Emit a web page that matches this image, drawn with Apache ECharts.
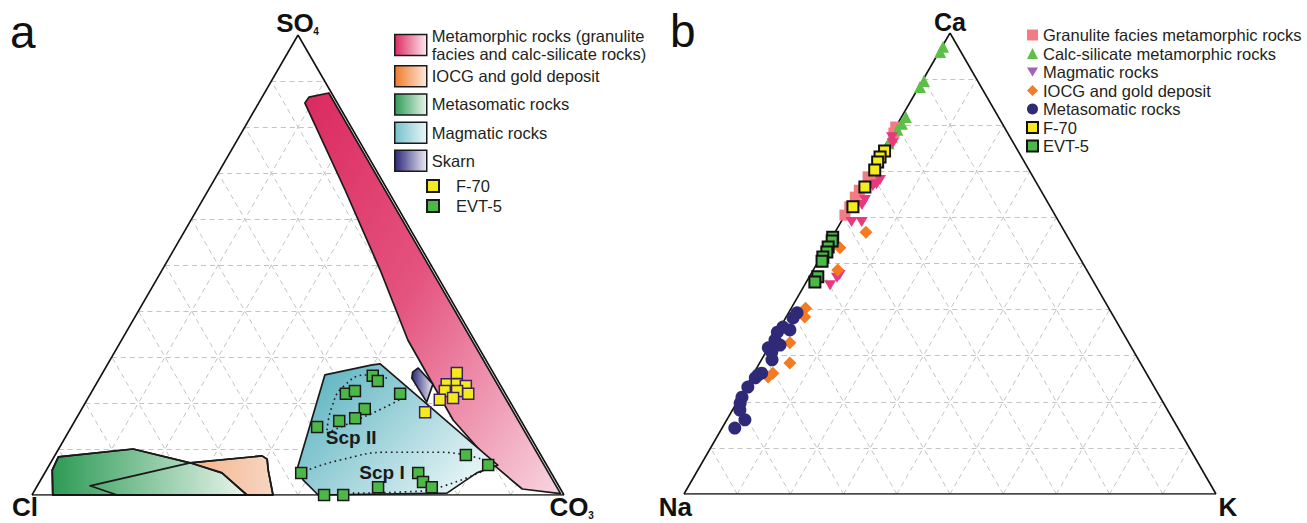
<!DOCTYPE html>
<html>
<head>
<meta charset="utf-8">
<script src="https://cdn.jsdelivr.net/npm/echarts@6/dist/echarts.min.js"></script>
<style>
html,body{margin:0;padding:0;background:#ffffff;}
#chart{width:1307px;height:523px;}
</style>
</head>
<body>
<div id="chart"></div>
<script>
// ===================== DATA =====================
// ternary grid ticks (percent)
const gridTicks = [10, 20, 30, 40, 50, 60, 70, 80, 90];

// ---- Diagram a : Cl (left) – CO3 (right) – SO4 (top); points are [SO4 %, CO3 %], Cl = remainder
const fieldMetamorphic = [[85.2, 8.7], [86.5, 8.8], [87.4, 12.1], [0.3, 99.2], [1.3, 91.5], [7.2, 82.5], [16.3, 71.0], [33.7, 53.8], [48.9, 41.0], [66.3, 25.7]];
const fieldIOCG = [[2.0, 9.9], [7.0, 26.2], [8.5, 39.0], [7.8, 40.3], [5.4, 41.7], [0, 45.3], [0, 16.0]];
const fieldMetasomatic = [[8.3, 0.8], [10.0, 14.0], [7.0, 26.2], [4.8, 33.3], [0, 40.4], [0, 3.9], [5.4, 1.1]];
const fieldMagmatic = [[26.1, 42.0], [28.3, 49.8], [28.5, 51.2], [6.5, 84.3], [4.8, 81.2], [0.4, 77.8], [0, 53.8], [3.3, 49.3], [6.1, 46.9]];
const fieldSkarn = [[26.7, 58.2], [27.6, 58.8], [24.1, 63.3], [20.2, 64.1], [25.4, 58.7]];
const scpIUpper = [[4.8, 48.0], [7.6, 54.1], [9.3, 62.7], [9.3, 72.0], [7.2, 82.5]];
const scpILower = [[0.4, 60.1], [0.7, 70.1], [1.7, 75.8], [5.9, 83.1]];
const scpIIOuter = [[14.1, 48.4], [19.1, 46.8], [23.5, 46.7], [26.1, 49.9], [25.4, 54.0]];
const scpIIInner = [[13.5, 48.7], [16.3, 52.9], [19.6, 57.5], [21.1, 59.0]];
const scpLabels = [{ name: 'Scp II', at: [12.6, 53.7] }, { name: 'Scp I', at: [5.0, 63.3] }];
const f70A = [[26.5, 66.6], [24.1, 65.9], [24.1, 67.8], [23.7, 69.7], [22.6, 66.3], [22.6, 68.6], [22.0, 71.0], [20.7, 66.3], [21.1, 68.6], [18.0, 64.9]];
const evt5A = [[25.9, 51.1], [24.8, 52.6], [22.0, 48.0], [22.6, 49.4], [22.0, 58.2], [18.7, 53.2], [16.7, 52.4], [16.1, 49.7], [14.8, 46.2], [8.7, 77.2], [6.5, 82.5], [4.8, 48.2], [4.8, 70.2], [2.8, 72.1], [1.7, 74.3], [1.7, 64.2], [0, 54.9], [0, 58.5]];

// ---- Diagram b : Na (left) – K (right) – Ca (top); points are [Ca %, K %], Na = remainder
const granulite = [[79.6, 0], [78.3, 0.3], [68.8, 0.2], [67.7, 1.5], [65.9, 0], [64.4, 0], [62.3, 0], [60.5, 0]];
const calcSilicate = [[97.0, 0.2], [95.9, 0.2], [89.6, 0.3], [88.3, 0.2], [81.8, 0.8], [80.3, 0.8], [79.0, 0.6], [77.4, 0.4], [76.1, 0.4]];
const magmatic = [[77.4, 0.4], [76.1, 1.2], [68.1, 2.8], [66.8, 2.1], [67.2, 2.6], [63.8, 2.1], [62.7, 2.1], [59.0, 2.0], [59.0, 3.9], [45.3, 4.8], [46.9, 5.3], [47.5, 5.5]];
const iocg = [[56.8, 5.8], [53.4, 2.6], [48.6, 4.6], [40.3, 2.7], [38.4, 3.5], [32.8, 3.5], [28.4, 5.7], [26.2, 3.6], [25.4, 3.1]];
const metasomatic = [[39.3, 1.6], [38.2, 1.4], [36.2, 0.5], [35.1, 0], [35.6, 2.1], [33.4, 0.4], [32.3, 1.9], [31.7, 0], [30.8, 1.1], [29.1, 2.0], [26.2, 1.5], [25.8, 1.0], [25.2, 0.8], [23.2, 0.4], [21.0, 0.4], [19.7, 0.7], [18.2, 1.4], [16.1, 3.4], [14.3, 2.4]];
const f70B = [[74.4, 0.5], [73.1, 0.3], [72.0, 0.4], [70.3, 0.7], [66.6, 0.7], [62.3, 0.6]];
const evt5B = [[55.7, 0.1], [54.9, 0.4], [53.6, 0.3], [52.5, 0.6], [51.4, 0.4], [50.5, 0.7], [47.1, 1.6], [46.0, 1.6]];

// names
const N_META = 'Metamorphic rocks (granulite\nfacies and calc-silicate rocks)';
const N_IOCG = 'IOCG and gold deposit';
const N_METASOM = 'Metasomatic rocks';
const N_MAGM = 'Magmatic rocks';
const N_SKARN = 'Skarn';
const N_F70 = 'F-70';
const N_EVT = 'EVT-5';
const N_GRAN = 'Granulite facies metamorphic rocks';
const N_CALC = 'Calc-silicate metamorphic rocks';

// ===================== HELPERS =====================
const S3 = Math.sqrt(3) / 2;
function T(top, right) { return [right / 100 + top / 200, top / 100 * S3]; }
const FONT = '"Liberation Sans", Arial, Helvetica, sans-serif';
function LG(x1, y1, x2, y2, stops) {
  return new echarts.graphic.LinearGradient(x1, y1, x2, y2, stops.map(s => ({ offset: s[0], color: s[1] })));
}
function gridSegments() {
  const segs = [];
  gridTicks.forEach(v => {
    segs.push([[v, 0], [v, 100 - v]]);
    segs.push([[0, v], [100 - v, v]]);
    segs.push([[0, 100 - v], [100 - v, 0]]);
  });
  return segs;
}
const edges = [[[100, 0], [0, 100]], [[0, 100], [0, 0]], [[0, 0], [100, 0]]];

const fills = {
  meta: LG(0, 0, 1, 1, [[0, '#db2a5f'], [0.45, '#e4537f'], [1, '#f9d6e1']]),
  iocg: LG(0, 0, 1, 0, [[0, '#f08a45'], [1, '#f7d6c2']]),
  metasom: LG(0, 0, 1, 0, [[0, '#2c9a55'], [1, '#e9f5ed']]),
  magm: LG(0, 0.2, 1, 0.8, [[0, '#5db4c1'], [1, '#eef8f9']]),
  skarn: LG(0, 0, 1, 0, [[0, '#2a2778'], [1, '#eceaf4']])
};
const legendFills = {
  meta: LG(0, 0, 1, 0, [[0, '#dd2b61'], [1, '#fbe9ef']]),
  iocg: LG(0, 0, 1, 0, [[0, '#ef7a2a'], [1, '#fde9dc']]),
  metasom: LG(0, 0, 1, 0, [[0, '#2e9a56'], [1, '#e8f5ec']]),
  magm: LG(0, 0, 1, 0, [[0, '#74c2cc'], [1, '#e9f6f7']]),
  skarn: LG(0, 0, 1, 0, [[0, '#2b2878'], [1, '#ecebf4']])
};

function fieldSeries(name, pts, fill, z) {
  return {
    type: 'custom', name, coordinateSystem: 'cartesian2d', xAxisIndex: 0, yAxisIndex: 0,
    data: [[0, 0]], z, silent: true, clip: false,
    itemStyle: { color: fill },
    renderItem: (params, api) => ({
      type: 'polygon',
      shape: { points: pts.map(p => api.coord(T(p[0], p[1]))) },
      style: { fill: fill, stroke: '#1a1a1a', lineWidth: 1.7, lineJoin: 'round' }
    })
  };
}
function dotted(pts) {
  return {
    type: 'line', xAxisIndex: 0, yAxisIndex: 0, data: pts.map(p => T(p[0], p[1])),
    smooth: true, symbol: 'none', clip: false, silent: true, z: 4,
    lineStyle: { color: '#1a1a1a', width: 1.6, type: [1.6, 3.6] }
  };
}
function scatter(name, g, pts, symbol, size, style, z) {
  return {
    type: 'scatter', name, xAxisIndex: g, yAxisIndex: g, clip: false, silent: true,
    data: pts.map(p => T(p[0], p[1])), symbol, symbolSize: size, itemStyle: Object.assign({ opacity: 1 }, style), z: z || 6
  };
}

const DOWN_TRI = 'path://M0,0L12,0L6,10Z';

const series = [];
[0, 1].forEach(g => {
  series.push({
    type: 'lines', coordinateSystem: 'cartesian2d', xAxisIndex: g, yAxisIndex: g, silent: true, z: 1,
    data: gridSegments().map(s => ({ coords: [T(s[0][0], s[0][1]), T(s[1][0], s[1][1])] })),
    lineStyle: { color: '#c3c3c3', width: 1, type: [5, 4], opacity: 1 }
  });
});
series.push(fieldSeries(N_META, fieldMetamorphic, fills.meta, 2));
series.push(fieldSeries(N_IOCG, fieldIOCG, fills.iocg, 2));
series.push(fieldSeries(N_METASOM, fieldMetasomatic, fills.metasom, 2));
series.push(fieldSeries(N_MAGM, fieldMagmatic, fills.magm, 2));
series.push(fieldSeries(N_SKARN, fieldSkarn, fills.skarn, 2));
// outlines above fills (overlaps show both borders)
series.push({
  type: 'custom', coordinateSystem: 'cartesian2d', xAxisIndex: 0, yAxisIndex: 0, data: [[0, 0]], z: 3, silent: true, clip: false,
  renderItem: (params, api) => ({
    type: 'group',
    children: [fieldIOCG, fieldMetasomatic].map(f => ({
      type: 'polygon', shape: { points: f.map(p => api.coord(T(p[0], p[1]))) },
      style: { fill: null, stroke: '#1a1a1a', lineWidth: 1.7, lineJoin: 'round' }
    }))
  })
});
[scpIUpper, scpILower, scpIIOuter, scpIIInner].forEach(d => series.push(dotted(d)));
series.push({
  type: 'scatter', name: 'Scp labels', xAxisIndex: 0, yAxisIndex: 0, symbolSize: 1, silent: true, z: 5,
  itemStyle: { opacity: 0 },
  data: scpLabels.map(s => ({ name: s.name, value: T(s.at[0], s.at[1]) })),
  label: { show: true, position: 'inside', formatter: p => p.name, fontFamily: FONT, fontWeight: 'bold', fontSize: 19, color: '#1a1a1a', textBorderWidth: 0, opacity: 1 }
});
[0, 1].forEach(g => {
  series.push({
    type: 'lines', coordinateSystem: 'cartesian2d', xAxisIndex: g, yAxisIndex: g, silent: true, z: 5,
    data: edges.map(s => ({ coords: [T(s[0][0], s[0][1]), T(s[1][0], s[1][1])] })),
    lineStyle: { color: '#111111', width: 1.6, opacity: 1 }
  });
});
series.push(scatter(N_F70, 0, f70A, 'rect', 11, { color: '#f4ea1c', borderColor: '#3a2266', borderWidth: 1.5 }, 7));
series.push(scatter(N_EVT, 0, evt5A, 'rect', 11, { color: '#4cb847', borderColor: '#1a1a1a', borderWidth: 1.5 }, 7));
// diagram b
series.push(scatter(N_GRAN, 1, granulite, 'rect', 11, { color: '#f27c83' }));
series.push(scatter(N_CALC, 1, calcSilicate, 'triangle', 12, { color: '#5cbf47' }));
series.push(scatter(N_MAGM, 1, magmatic, DOWN_TRI, [12, 10], { color: '#e8387e' }));
series.push(scatter(N_IOCG, 1, iocg, 'diamond', 13, { color: '#f47b22' }));
series.push(scatter(N_METASOM, 1, metasomatic, 'circle', 13, { color: '#2f2a78' }));
series.push(scatter(N_F70, 1, f70B, 'rect', 11, { color: '#f4ea1c', borderColor: '#111111', borderWidth: 2 }, 7));
series.push(scatter(N_EVT, 1, evt5B, 'rect', 11, { color: '#4cb847', borderColor: '#111111', borderWidth: 2 }, 7));

const legendText = { fontFamily: FONT, fontSize: 16.5, color: '#231f20', lineHeight: 18 };
const boxBorder = { borderColor: '#1a1a1a', borderWidth: 1.5 };
const legends = [
  {
    orient: 'vertical', left: 394, top: 27, padding: 0, itemWidth: 32, itemHeight: 21, selectedMode: false, textStyle: legendText,
    data: [{ name: N_META, icon: 'rect', itemStyle: Object.assign({ color: legendFills.meta }, boxBorder) }]
  },
  {
    orient: 'vertical', left: 394, top: 65, padding: 0, itemWidth: 32, itemHeight: 21, itemGap: 5.7, selectedMode: false, textStyle: legendText,
    data: [
      { name: N_IOCG, icon: 'rect', itemStyle: Object.assign({ color: legendFills.iocg }, boxBorder) },
      { name: N_METASOM, icon: 'rect', itemStyle: Object.assign({ color: legendFills.metasom }, boxBorder) },
      { name: N_MAGM, icon: 'rect', itemStyle: Object.assign({ color: legendFills.magm }, boxBorder) },
      { name: N_SKARN, icon: 'rect', itemStyle: Object.assign({ color: legendFills.skarn }, boxBorder) }
    ]
  },
  {
    orient: 'vertical', left: 426, top: 177, padding: 0, itemWidth: 12, itemHeight: 12, itemGap: 2, selectedMode: false,
    textStyle: Object.assign({ padding: [0, 0, 0, 12] }, legendText),
    data: [
      { name: N_F70, icon: 'rect', itemStyle: { color: '#f4ea1c', borderColor: '#1a1a1a', borderWidth: 2 } },
      { name: N_EVT, icon: 'rect', itemStyle: { color: '#4cb847', borderColor: '#1a1a1a', borderWidth: 2 } }
    ]
  },
  {
    orient: 'vertical', left: 1026, top: 26, padding: 0, itemWidth: 11, itemHeight: 11, itemGap: 0.5, selectedMode: false, textStyle: legendText,
    data: [
      { name: N_GRAN, icon: 'rect', itemStyle: { color: '#f27c83', borderWidth: 0 } },
      { name: N_CALC, icon: 'triangle', itemStyle: { color: '#5cbf47', borderWidth: 0 } },
      { name: N_MAGM, icon: DOWN_TRI, itemStyle: { color: '#a262b8', borderWidth: 0 } },
      { name: N_IOCG, icon: 'diamond', itemStyle: { color: '#f47b22', borderWidth: 0 } },
      { name: N_METASOM, icon: 'circle', itemStyle: { color: '#2f2a78', borderWidth: 0 } },
      { name: N_F70, icon: 'rect', itemStyle: { color: '#f4ea1c', borderColor: '#111111', borderWidth: 2 } },
      { name: N_EVT, icon: 'rect', itemStyle: { color: '#4cb847', borderColor: '#111111', borderWidth: 2 } }
    ]
  }
];

function txt(text, x, y, size, bold, align) {
  return {
    type: 'text', z: 20, silent: true,
    style: { text, x, y, fill: '#111111', font: (bold ? 'bold ' : '') + size + 'px ' + FONT, textAlign: align || 'center', textVerticalAlign: 'middle' }
  };
}

const chart = echarts.init(document.getElementById('chart'), null, { renderer: 'svg', width: 1307, height: 523 });
chart.setOption({
  animation: false,
  backgroundColor: '#ffffff',
  grid: [
    { left: 32, top: 35, width: 532, height: 460 },
    { left: 684, top: 33, width: 532, height: 461 }
  ],
  xAxis: [
    { gridIndex: 0, type: 'value', min: 0, max: 1, show: false },
    { gridIndex: 1, type: 'value', min: 0, max: 1, show: false }
  ],
  yAxis: [
    { gridIndex: 0, type: 'value', min: 0, max: S3, show: false },
    { gridIndex: 1, type: 'value', min: 0, max: S3, show: false }
  ],
  legend: legends,
  series,
  graphic: [
    txt('a', 10, 32, 46, false, 'left'),
    txt('b', 670, 31, 46, false, 'left'),
    txt('SO', 295, 23, 26, true),
    txt('4', 316, 31, 10, true),
    txt('Cl', 25, 507, 26, true),
    txt('CO', 569, 507, 26, true),
    txt('3', 591, 515, 10, true),
    txt('Ca', 950, 22, 25, true),
    txt('Na', 692, 507, 26, true, 'right'),
    txt('K', 1228, 507, 26, true)
  ]
});
</script>
</body>
</html>
